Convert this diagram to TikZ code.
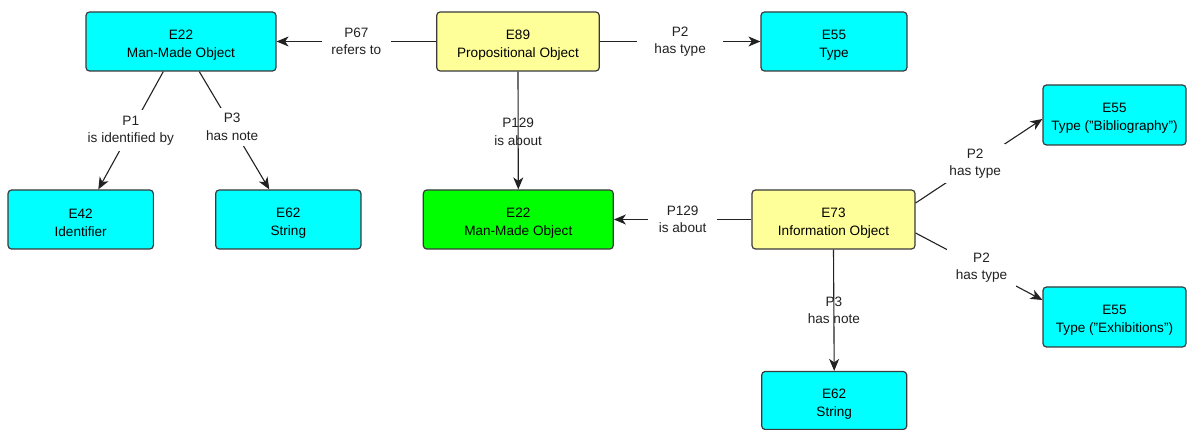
\documentclass[tikz,border=0pt]{standalone}
\usepackage{fontspec}
\setmainfont{Liberation Sans}
\usetikzlibrary{arrows.meta}
\definecolor{cy}{HTML}{00FFFF}
\definecolor{yl}{HTML}{FFFF99}
\definecolor{gr}{HTML}{00FF00}
\definecolor{bd}{HTML}{3A3A3A}
\definecolor{ln}{HTML}{222222}
\newcommand\boxstrut{\rule{0pt}{16pt}}
\begin{document}
\begin{tikzpicture}[x=1pt,y=-1pt,
  box/.style={draw=bd, line width=1.2pt, rounded corners=3.5pt, minimum height=59pt, align=center, inner sep=0pt, font=\fontsize{13.6}{18}\selectfont, text=black},
  cls/.style={box, fill=cy},
  ent/.style={box, fill=yl},
  hl/.style={box, fill=gr},
  arr/.style={draw=ln, line width=1.1pt, -{Stealth[length=12pt,width=10pt,inset=3.5pt]}},
  lbl/.style={align=center, font=\fontsize{13.6}{17.5}\selectfont, text=ln, inner sep=0pt},
  gap/.style={lbl, fill=white},
]
\useasboundingbox[fill=white] (0,0) rectangle (1187,430);

\node[cls, minimum width=190pt] (mmoA) at (181,41.5) {\boxstrut E22\\Man-Made Object};
\node[ent, minimum width=162.6pt] (e89) at (518,41.5) {\boxstrut E89\\Propositional Object};
\node[cls, minimum width=146pt] (typeA) at (834,41.5) {\boxstrut E55\\Type};
\node[cls, minimum width=145.3pt] (e42) at (80.7,219.5) {\boxstrut E42\\Identifier};
\node[cls, minimum width=145.3pt] (strA) at (288.3,219.5) {\boxstrut E62\\String};
\node[hl, minimum width=190pt] (mmoB) at (518.3,219.5) {\boxstrut E22\\Man-Made Object};
\node[ent, minimum width=163pt] (e73) at (833.5,219.5) {\boxstrut E73\\Information Object};
\node[cls, minimum width=143pt, minimum height=60pt] (bib) at (1114.5,115) {\boxstrut E55\\Type ("Bibliography")};
\node[cls, minimum width=143pt, minimum height=60pt] (exh) at (1114.5,317) {\boxstrut E55\\Type ("Exhibitions")};
\node[cls, minimum width=145pt, minimum height=58pt] (strB) at (834.2,400.5) {\boxstrut E62\\String};

\draw[arr] (e89.west) -- node[gap, inner xsep=9.5pt, inner ysep=2pt] (lP67) {P67\\refers to} (mmoA.east);
\draw[arr] (e89.east) -- node[gap, inner xsep=17.5pt, inner ysep=2pt] (lP2a) {P2\\has type} (typeA.west);
\draw[arr] (e89.south) -- node[lbl, yshift=-1.5pt] (lP129a) {P129\\is about} (mmoB.north);
\draw[arr] (e73.west) -- node[gap, inner xsep=10.5pt, inner ysep=2pt] (lP129b) {P129\\is about} (mmoB.east);
\draw[arr] (e73.south) -- node[lbl] (lP3b) {P3\\has note} (strB.north);
\draw[arr] ([yshift=16.5pt]e73.east) -- node[gap, pos=0.47, inner xsep=4pt, inner ysep=5pt] (lP2b) {P2\\has type} ([yshift=-4pt]bib.west);
\draw[arr] ([yshift=-13.5pt]e73.east) -- node[gap, pos=0.52, inner xsep=9pt, inner ysep=4pt] (lP2c) {P2\\has type} ([yshift=17pt]exh.west);
\draw[arr] ([xshift=-17.7pt]mmoA.south) -- node[gap, inner ysep=5.3pt] (lP1) {P1\\is identified by} ([xshift=17.6pt]e42.north);
\draw[arr] ([xshift=18.3pt]mmoA.south) -- node[gap, pos=0.47, inner ysep=5pt] (lP3a) {P3\\has note} ([xshift=-19pt]strA.north);
\end{tikzpicture}
\end{document}
